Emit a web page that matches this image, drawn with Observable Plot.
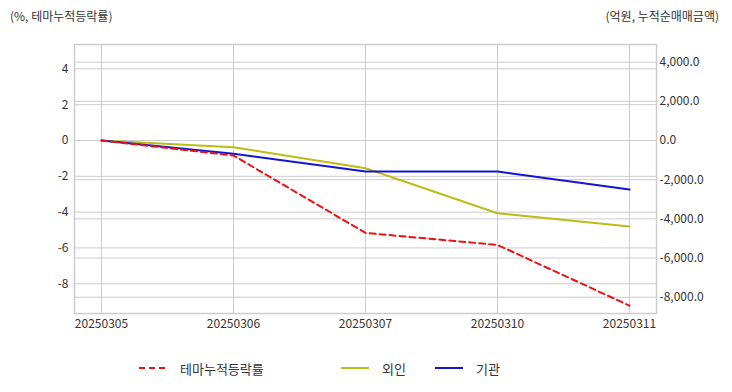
<!DOCTYPE html>
<html>
<head>
<meta charset="utf-8">
<script src="https://cdn.jsdelivr.net/npm/d3@7"></script>
<script src="https://cdn.jsdelivr.net/npm/@observablehq/plot@0.6"></script>
<style>
  html, body { margin: 0; padding: 0; background: #fff; }
  body { font-family: "Noto Sans CJK KR", "Noto Sans", sans-serif; color: #333; }
  #wrap { position: relative; width: 732px; height: 392px; overflow: hidden; }
  .hdr { position: absolute; top: 7px; font-size: 12px; color: #333; white-space: nowrap; }
  #legend { position: absolute; top: 357px; left: 0; width: 732px; height: 22px; font-size: 13px; color: #333; }
  .li { position: absolute; top: 0; display: flex; align-items: center; height: 22px; }
  .li svg { margin-right: 13px; }
</style>
</head>
<body>
<div id="wrap">
  <div class="hdr" id="hl" style="left:10px;"></div>
  <div class="hdr" id="hr" style="right:13px;"></div>
  <div id="chart"></div>
  <div id="legend"></div>
</div>
<script>
// ---- data ----
const dates = ["20250305", "20250306", "20250307", "20250310", "20250311"];
const themeRate = [0, -0.84, -5.16, -5.83, -9.22];        // %, left axis
const foreign = [0, -342, -1414, -3713, -4392];           // 억원, right axis
const institution = [0, -679, -1583, -1583, -2503];       // 억원, right axis
const leftTicks = [4, 2, 0, -2, -4, -6, -8];
const rightTicks = [4000, 2000, 0, -2000, -4000, -6000, -8000];
const leftTitle = "(%, 테마누적등락률)";
const rightTitle = "(억원, 누적순매매금액)";
const seriesNames = ["테마누적등락률", "외인", "기관"];
const colors = ["#ee1111", "#bcbc14", "#1414d2"];

// right axis value -> left axis units
const k = 0.0010939;
const leftDomain = [-9.66, 5.36];

const themeData = dates.map((d, i) => ({date: d, y: themeRate[i]}));
const foreignData = dates.map((d, i) => ({date: d, y: foreign[i] * k}));
const instData = dates.map((d, i) => ({date: d, y: institution[i] * k}));
const fmtR = d3.format(",.1f");

const chart = Plot.plot({
  width: 732,
  height: 392,
  marginLeft: 74,
  marginRight: 76,
  marginTop: 44,
  marginBottom: 79,
  style: {fontFamily: '"Noto Sans CJK KR", "Noto Sans", sans-serif', fontSize: "12px", color: "#333", background: "#fff"},
  x: {type: "point", domain: dates, padding: 0.2, label: null},
  y: {domain: leftDomain, label: null},
  marks: [
    Plot.gridX(dates, {stroke: "#cccccc", strokeOpacity: 1, strokeWidth: 1}),
    Plot.gridY(leftTicks, {stroke: "#cccccc", strokeOpacity: 1, strokeWidth: 1}),
    Plot.gridY(rightTicks.map(v => v * k), {stroke: "#cccccc", strokeOpacity: 1, strokeWidth: 1}),
    Plot.frame({stroke: "#cccccc", strokeWidth: 1.5}),
    Plot.axisY(leftTicks, {anchor: "left", tickSize: 0, tickPadding: 6, fontSize: 12, fill: "#333", tickFormat: d => String(d).replace("−", "-"), label: null}),
    Plot.axisY(rightTicks.map(v => v * k), {anchor: "right", tickSize: 0, tickPadding: 3, fontSize: 12, fill: "#333", tickFormat: d => fmtR(Math.round(d / k / 1000) * 1000).replace("−", "-"), label: null}),
    Plot.axisX(dates, {anchor: "bottom", tickSize: 0, tickPadding: 6, fontSize: 12, fill: "#333", label: null}),
    Plot.line(foreignData, {x: "date", y: "y", stroke: colors[1], strokeWidth: 2}),
    Plot.line(instData, {x: "date", y: "y", stroke: colors[2], strokeWidth: 2}),
    Plot.line(themeData, {x: "date", y: "y", stroke: colors[0], strokeWidth: 2, strokeDasharray: "6,4"})
  ]
});
document.getElementById("chart").appendChild(chart);
document.getElementById("hl").textContent = leftTitle;
document.getElementById("hr").textContent = rightTitle;

// legend
const legendX = [139, 341, 435];
const dashes = ["6,4", null, null];
const leg = document.getElementById("legend");
seriesNames.forEach((name, i) => {
  const div = document.createElement("div");
  div.className = "li";
  div.style.left = legendX[i] + "px";
  const ns = "http://www.w3.org/2000/svg";
  const svg = document.createElementNS(ns, "svg");
  svg.setAttribute("width", 28);
  svg.setAttribute("height", 10);
  const ln = document.createElementNS(ns, "line");
  ln.setAttribute("x1", 0); ln.setAttribute("x2", 28);
  ln.setAttribute("y1", 5); ln.setAttribute("y2", 5);
  ln.setAttribute("stroke", colors[i]);
  ln.setAttribute("stroke-width", 2);
  if (dashes[i]) ln.setAttribute("stroke-dasharray", dashes[i]);
  svg.appendChild(ln);
  div.appendChild(svg);
  const sp = document.createElement("span");
  sp.textContent = name;
  div.appendChild(sp);
  leg.appendChild(div);
});
</script>
</body>
</html>
